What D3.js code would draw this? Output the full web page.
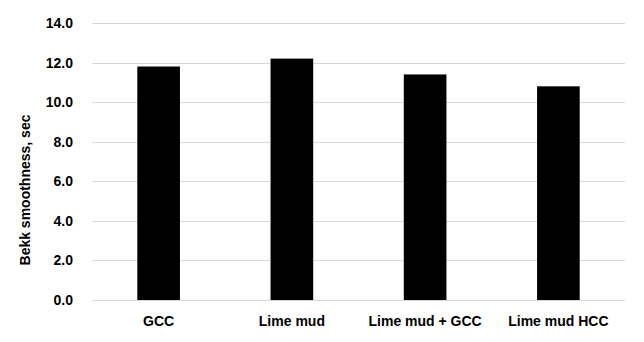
<!DOCTYPE html>
<html>
<head>
<meta charset="utf-8">
<script src="https://cdn.jsdelivr.net/npm/d3@7"></script>
<style>
  body { margin: 0; background: #fff; }
  text { font-family: "Liberation Sans", Arial, sans-serif; font-weight: bold; fill: #000; }
</style>
</head>
<body>
<div id="bar-chart"></div>
<script>
var categories = ["GCC", "Lime mud", "Lime mud + GCC", "Lime mud HCC"];
var values = [11.8, 12.2, 11.4, 10.8];
var yTicks = [0, 2, 4, 6, 8, 10, 12, 14];
var yTitle = "Bekk smoothness, sec";

var margin = {top: 23, right: 19, bottom: 42, left: 92},
    width = 644 - margin.left - margin.right,
    height = 300 - margin.top;

var svg = d3.select("#bar-chart")
    .append("svg")
    .attr("width", 644)
    .attr("height", 342)
    .append("g")
    .attr("transform", "translate(" + margin.left + "," + margin.top + ")");

var x = d3.scaleBand()
    .range([0, width])
    .domain(categories)
    .paddingInner(0.68)
    .paddingOuter(0.34);

var y = d3.scaleLinear()
    .domain([0, 14])
    .range([height, 0]);

// gridlines
svg.selectAll(".grid")
    .data(yTicks)
    .enter()
    .append("line")
    .attr("x1", 0)
    .attr("x2", width)
    .attr("y1", function(d) { return Math.round(y(d)) + 0.5; })
    .attr("y2", function(d) { return Math.round(y(d)) + 0.5; })
    .attr("stroke", "#d9d9d9")
    .attr("stroke-width", 1);

// y axis labels
var yAxis = svg.append("g")
    .call(d3.axisLeft(y).tickValues(yTicks).tickFormat(d3.format(".1f")).tickSize(0).tickPadding(19));
yAxis.select(".domain").remove();
yAxis.selectAll("text")
    .style("font-size", "14px")
    .style("font-family", "Liberation Sans, Arial, sans-serif")
    .style("font-weight", "bold")
    .attr("fill", "#000");

// bars
svg.selectAll("mybar")
    .data(values)
    .enter()
    .append("rect")
    .attr("x", function(d, i) { return x(categories[i]); })
    .attr("y", function(d) { return y(d); })
    .attr("width", x.bandwidth())
    .attr("height", function(d) { return height - y(d); })
    .attr("fill", "#000");

// x axis labels
var xAxis = svg.append("g")
    .attr("transform", "translate(0," + height + ")")
    .call(d3.axisBottom(x).tickSize(0).tickPadding(16));
xAxis.select(".domain").remove();
xAxis.selectAll("text")
    .style("font-size", "14px")
    .style("font-family", "Liberation Sans, Arial, sans-serif")
    .style("font-weight", "bold")
    .attr("fill", "#000");

// y title
svg.append("text")
    .attr("transform", "translate(" + (30 - margin.left) + "," + (190 - margin.top) + ") rotate(-90)")
    .attr("text-anchor", "middle")
    .style("font-size", "14px")
    .text(yTitle);
</script>
</body>
</html>
